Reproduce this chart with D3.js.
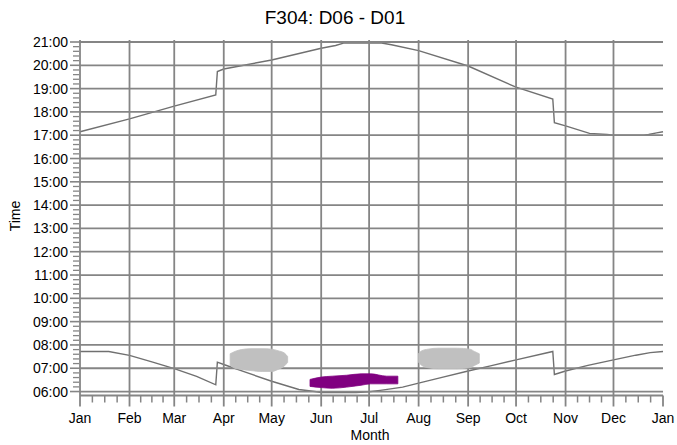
<!DOCTYPE html>
<html><head><meta charset="utf-8">
<script src="https://cdn.jsdelivr.net/npm/d3@7"></script>
<style>body{margin:0;background:#fff}svg{display:block;font-family:"Liberation Sans",Arial,sans-serif}</style>
</head><body><svg id="c" width="677" height="445"></svg>
<script>
const chartTitle = "F304: D06 - D01";
const monthLabels = ["Jan","Feb","Mar","Apr","May","Jun","Jul","Aug","Sep","Oct","Nov","Dec","Jan"];
const hourTicks = [6,7,8,9,10,11,12,13,14,15,16,17,18,19,20,21];
const hourLabels = ["06:00","07:00","08:00","09:00","10:00","11:00","12:00","13:00","14:00","15:00","16:00","17:00","18:00","19:00","20:00","21:00"];

const sunriseDates = ["2021-01-01","2021-01-19","2021-02-01","2021-02-15","2021-03-01","2021-03-15","2021-03-27","2021-03-28","2021-04-01","2021-04-15","2021-05-01","2021-05-18","2021-05-28","2021-06-01","2021-06-23","2021-07-01","2021-07-08","2021-07-22","2021-08-01","2021-08-15","2021-09-01","2021-09-15","2021-10-01","2021-10-24","2021-10-25","2021-11-01","2021-11-15","2021-12-01","2021-12-15","2021-12-24","2022-01-01"];
const sunriseHours = [7.72,7.72,7.55,7.27,6.98,6.65,6.29,7.26,7.16,6.82,6.44,6.09,6.00,5.96,5.96,5.99,6.05,6.19,6.36,6.60,6.88,7.10,7.36,7.72,6.73,6.88,7.12,7.36,7.56,7.67,7.72];

const sunsetDates = ["2021-01-01","2021-02-01","2021-03-01","2021-03-27","2021-03-28","2021-04-01","2021-05-01","2021-06-01","2021-06-10","2021-06-15","2021-07-08","2021-07-15","2021-08-01","2021-09-01","2021-10-01","2021-10-24","2021-10-25","2021-11-01","2021-11-16","2021-11-27","2021-12-01","2021-12-10","2021-12-20","2021-12-23","2021-12-28","2022-01-01"];
const sunsetHours = [17.15,17.70,18.25,18.73,19.73,19.84,20.23,20.73,20.85,20.95,20.97,20.88,20.63,19.97,19.06,18.55,17.54,17.40,17.08,17.03,17.00,17.00,17.00,17.03,17.10,17.15];

const glareAprDates = ["2021-04-05","2021-04-08","2021-04-12","2021-04-18","2021-04-25","2021-05-01","2021-05-05","2021-05-09","2021-05-11"];
const glareAprStart = [7.12,7.00,6.95,6.90,6.86,6.86,6.95,7.10,7.25];
const glareAprEnd   = [7.62,7.72,7.80,7.84,7.84,7.82,7.75,7.65,7.50];

const glareAugDates = ["2021-08-01","2021-08-03","2021-08-07","2021-08-13","2021-08-25","2021-09-02","2021-09-05","2021-09-08"];
const glareAugStart = [7.25,7.12,7.02,6.98,6.98,7.02,7.12,7.22];
const glareAugEnd   = [7.64,7.75,7.82,7.86,7.86,7.82,7.72,7.62];

const glareJunDates = ["2021-05-25","2021-06-01","2021-06-08","2021-06-17","2021-06-26","2021-07-02","2021-07-12","2021-07-19"];
const glareJunStart = [6.22,6.17,6.14,6.19,6.27,6.33,6.33,6.33];
const glareJunEnd   = [6.52,6.62,6.66,6.70,6.76,6.76,6.66,6.66];

const parse = d3.timeParse("%Y-%m-%d");
const svg = d3.select("#c");
const x = d3.scaleTime().domain([new Date(2021,0,1), new Date(2022,0,1)]).range([80, 663]);
const y = d3.scaleLinear().domain([5.83, 21]).range([395.5, 42]);
const gridColor = "#858585";

const monthDates = d3.range(13).map(m => new Date(2021, m, 1));

// data lines (under grid)
const line = d3.line().x(d => x(d.d)).y(d => y(d.h));
const sunrise = sunriseDates.map((s,i)=>({d:parse(s),h:sunriseHours[i]}));
const sunset = sunsetDates.map((s,i)=>({d:parse(s),h:sunsetHours[i]}));
[sunrise, sunset].forEach(data => {
  svg.append("path").datum(data).attr("d", line).attr("fill","none")
    .attr("stroke","#707070").attr("stroke-width",1.4);
});

// horizontal grid
svg.append("g").selectAll("line").data(hourTicks).join("line")
  .attr("x1", x.range()[0]).attr("x2", x.range()[1])
  .attr("y1", d=>y(d)).attr("y2", d=>y(d))
  .attr("stroke", gridColor).attr("stroke-width", 1.8);
// bottom axis line
svg.append("line").attr("x1", x.range()[0]).attr("x2", x.range()[1])
  .attr("y1", y.range()[0]).attr("y2", y.range()[0])
  .attr("stroke", gridColor).attr("stroke-width", 1.8);

// vertical grid (months)
svg.append("g").selectAll("line").data(monthDates.slice(0,12)).join("line")
  .attr("x1", d=>x(d)).attr("x2", d=>x(d))
  .attr("y1", y(21)-2).attr("y2", y.range()[0]+11)
  .attr("stroke", gridColor).attr("stroke-width", 1.8);
svg.append("line").attr("x1", x(monthDates[12])).attr("x2", x(monthDates[12]))
  .attr("y1", y.range()[0]).attr("y2", y.range()[0]+11)
  .attr("stroke", gridColor).attr("stroke-width", 1.8);

// minor x ticks: quarter months
const minorX = [];
for (let m=0;m<12;m++){ const a=+monthDates[m], b=+monthDates[m+1]; for(let k=1;k<4;k++) minorX.push(new Date(a+(b-a)*k/4)); }
svg.append("g").selectAll("line").data(minorX).join("line")
  .attr("x1", d=>x(d)).attr("x2", d=>x(d))
  .attr("y1", y.range()[0]).attr("y2", y.range()[0]+7)
  .attr("stroke", gridColor).attr("stroke-width", 1.5);

// y ticks
svg.append("g").selectAll("line").data(hourTicks).join("line")
  .attr("x1", 70).attr("x2", 80).attr("y1", d=>y(d)).attr("y2", d=>y(d))
  .attr("stroke", gridColor).attr("stroke-width", 1.6);
const minorY = d3.range(6*5, 21*5).filter(v => v % 5 !== 0).map(v => v/5);
svg.append("g").selectAll("line").data(minorY).join("line")
  .attr("x1", 73).attr("x2", 79).attr("y1", d=>y(d)).attr("y2", d=>y(d))
  .attr("stroke", gridColor).attr("stroke-width", 1.3);

// glare areas (over grid)
const area = d3.area().x(d=>x(d.d)).y0(d=>y(d.s)).y1(d=>y(d.e)).curve(d3.curveMonotoneX);
function blob(dates, st, en, color){
  const data = dates.map((s,i)=>({d:parse(s),s:st[i],e:en[i]}));
  svg.append("path").datum(data).attr("d", area).attr("fill", color).attr("stroke", color).attr("stroke-width",0.8);
}
blob(glareAprDates, glareAprStart, glareAprEnd, "#c0c0c0");
blob(glareAugDates, glareAugStart, glareAugEnd, "#c0c0c0");
blob(glareJunDates, glareJunStart, glareJunEnd, "#800080");

// labels
svg.append("g").selectAll("text").data(hourTicks).join("text")
  .attr("x", 68).attr("y", d=>y(d)+5).attr("text-anchor","end")
  .attr("font-size", 14).attr("fill","#000").text((d,i)=>hourLabels[i]);
svg.append("g").selectAll("text").data(monthDates).join("text")
  .attr("x", d=>x(d)).attr("y", 423).attr("text-anchor","middle")
  .attr("font-size", 14).attr("fill","#000").text((d,i)=>monthLabels[i]);

svg.append("text").attr("x", 335).attr("y", 24).attr("text-anchor","middle")
  .attr("font-size", 19).attr("fill","#000").text(chartTitle);
svg.append("text").attr("x", 370).attr("y", 440).attr("text-anchor","middle")
  .attr("font-size", 14).attr("fill","#000").text("Month");
svg.append("text").attr("transform","translate(20,216) rotate(-90)").attr("text-anchor","middle")
  .attr("font-size", 14).attr("fill","#000").text("Time");
</script></body></html>
